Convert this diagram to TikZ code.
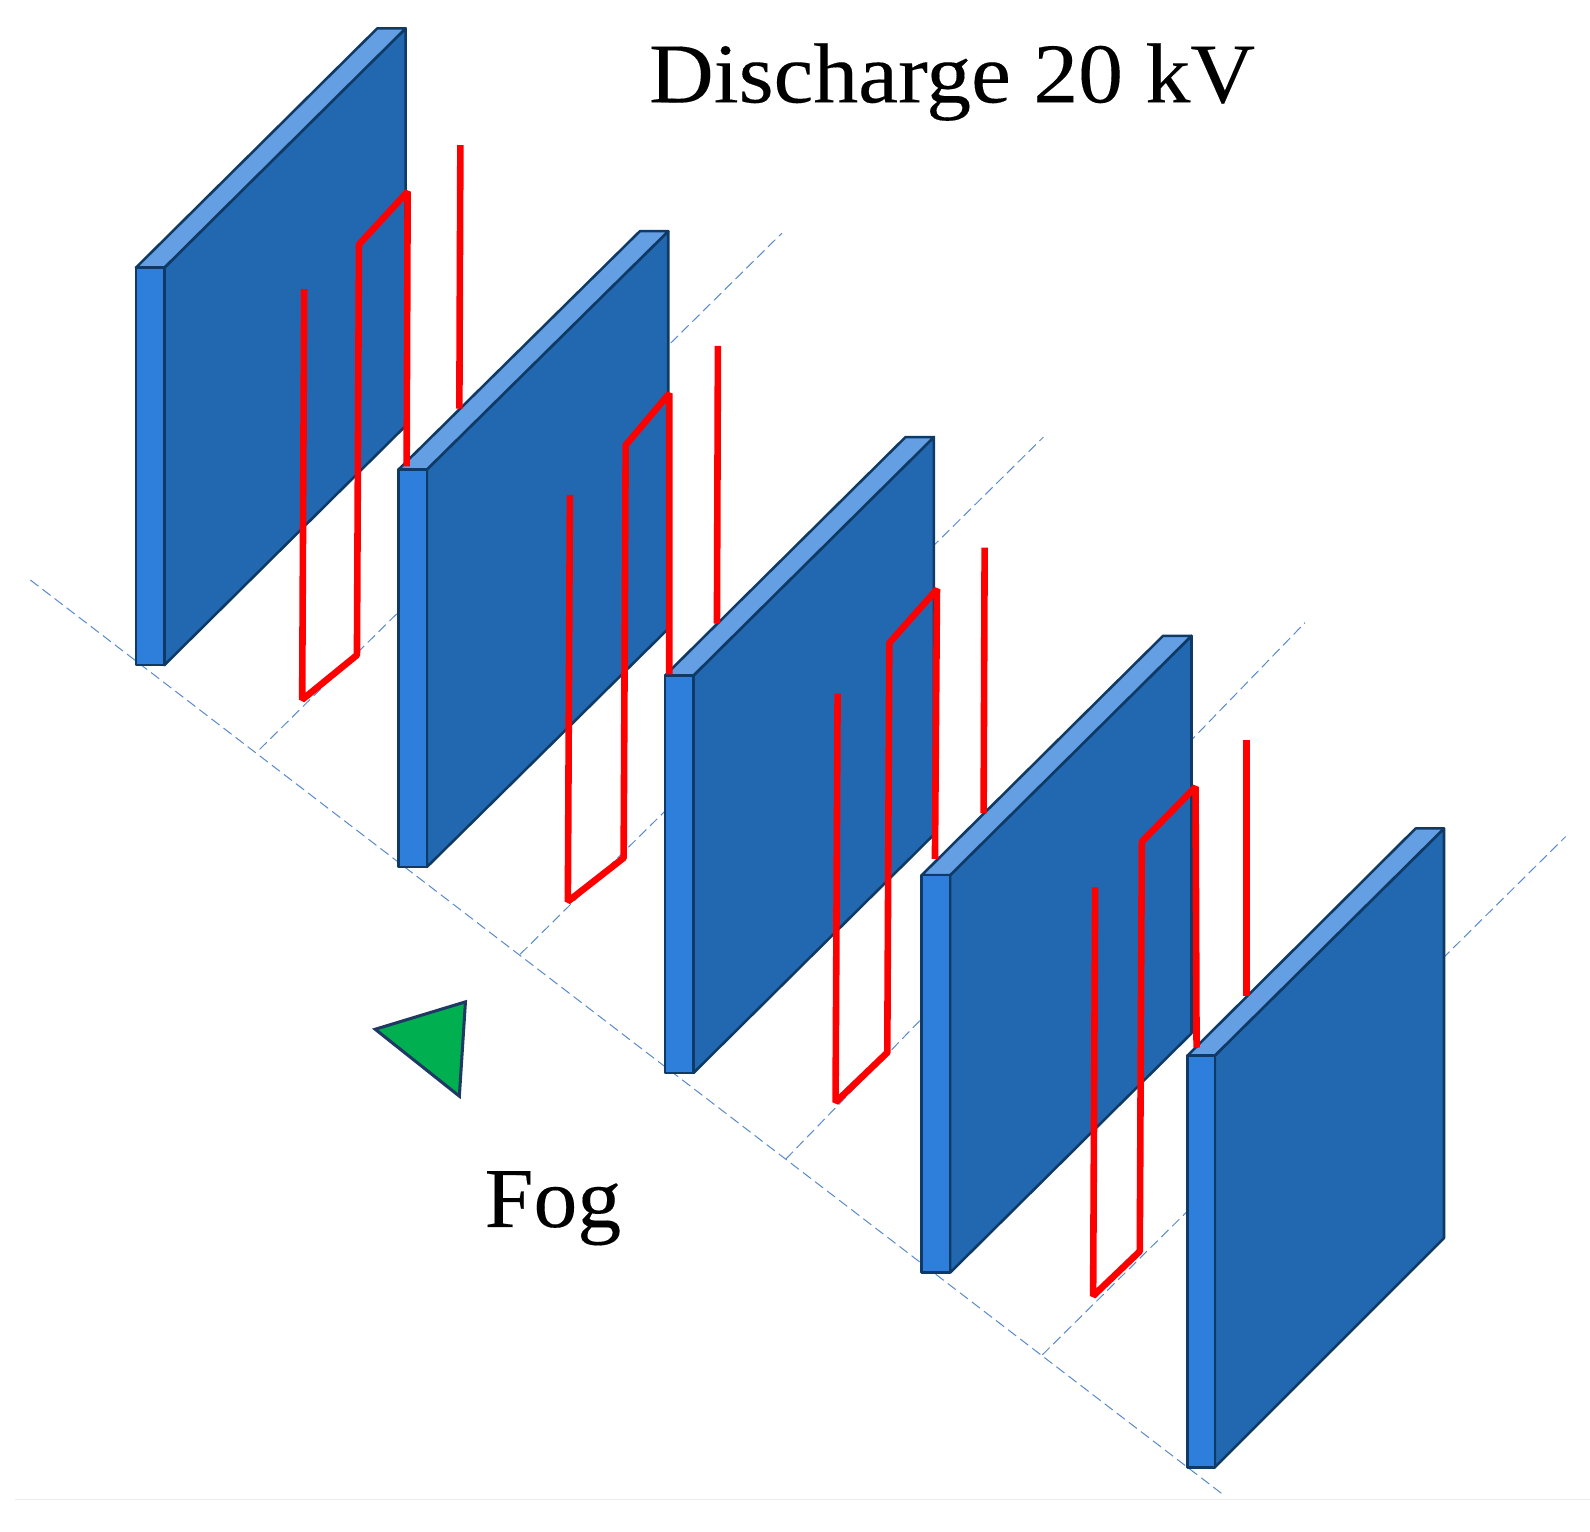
\documentclass[tikz,border=0pt]{standalone}
\usepackage{fontspec}
\setmainfont[FakeBold=0.15]{Liberation Serif}
\tikzset{
  face/.style={draw=platedge,line width=2.5pt,line join=round},
  guide/.style={draw=guideblue,line width=1pt,dash pattern=on 10pt off 5pt},
  wire/.style={draw=wirered,line width=6.5pt,line join=bevel,line cap=butt},
  label/.style={anchor=base west,inner sep=0pt,outer sep=0pt,text=black,font=\fontsize{84pt}{90pt}\selectfont}
}
\definecolor{platedge}{HTML}{0F3A66}
\definecolor{guideblue}{HTML}{5B8BC9}
\definecolor{wirered}{HTML}{FF0000}
\definecolor{frontblue}{HTML}{2E7FDC}
\definecolor{topblue}{HTML}{659FE3}
\definecolor{sideblue}{HTML}{2268B0}
\definecolor{foggreen}{HTML}{00B050}
\definecolor{fogedge}{HTML}{1F3864}
\newcommand{\plateshape}[7]{%
  \fill[sideblue,face] (#2,#3) -- (#6,#5) -- (#6,#7) -- (#2,#4) -- cycle;
  \fill[topblue,face] (#1,#3) -- (#6-28,#5) -- (#6,#5) -- (#2,#3) -- cycle;
  \fill[frontblue,face] (#1,#3) rectangle (#2,#4);
}
\begin{document}
\begin{tikzpicture}[x=1pt,y=-1pt]
\useasboundingbox (0,0) rectangle (1568,1510);
\draw[draw=black!7,line width=1pt] (15,1479) -- (1568,1479);
% guides
\draw[guide] (30,572) -- (1205,1473);
\draw[guide] (256,739) -- (771,230);
\draw[guide] (513,941) -- (1029,431);
\draw[guide] (775,1143) -- (1287,614);
\draw[guide] (1028,1336) -- (1544,825);
% plates: x0, x1, top, bottom, back y top, back x right, back y bottom
\plateshape{134}{162}{264}{656}{28}{400}{420}
\plateshape{393}{421}{463}{855}{228}{659}{620}
\plateshape{656}{684}{666}{1058}{431}{921}{823}
\plateshape{909}{937}{863}{1255}{627}{1175}{1019}
\plateshape{1171}{1198}{1041}{1447}{817}{1424}{1221}
% wires
\draw[wire] (300,285) -- (298,690) -- (352,646) -- (354,241) -- (402,189) -- (401,460);
\draw[wire] (454,143) -- (453,403);
\draw[wire] (562,488) -- (560,889) -- (615,846) -- (617,439) -- (660,388) -- (660,665);
\draw[wire] (708,341) -- (707,615);
\draw[wire] (826,684) -- (824,1087) -- (875,1038) -- (877,634) -- (924,581) -- (922,847);
\draw[wire] (971,540) -- (970,802);
\draw[wire] (1080,875) -- (1078,1278) -- (1124,1234) -- (1126,830) -- (1179,776) -- (1180,1033);
\draw[wire] (1229,730) -- (1229,982);
% fog marker
\filldraw[fill=foggreen,draw=fogedge,line width=3pt,line join=miter] (370,1015) -- (459,988) -- (453,1081) -- cycle;
\node[label] (discharge) at (640,101) {\scalebox{1.053}[1]{Discharge 20 kV}};
\node[label] (fog) at (478,1210) {\scalebox{1.03}[1]{Fog}};
\end{tikzpicture}
\end{document}
